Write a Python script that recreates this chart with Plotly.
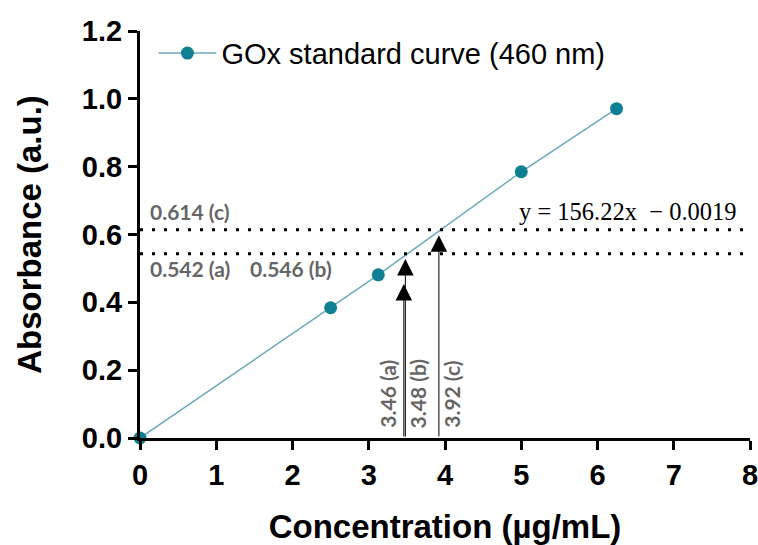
import plotly.graph_objects as go

# Standard curve data
conc = [0, 2.5, 3.125, 5, 6.25]
absorb = [0, 0.384, 0.481, 0.785, 0.971]

# Reference absorbance levels (dotted lines)
levels = [0.614, 0.543]

# Sample read-outs: concentration, arrow tip absorbance, label
sample_x = [3.46, 3.48, 3.92]
sample_tip = [0.454, 0.528, 0.598]
sample_labels = ["3.46 (a)", "3.48 (b)", "3.92 (c)"]

x_ticks = [0, 1, 2, 3, 4, 5, 6, 7, 8]
y_ticks = [0.0, 0.2, 0.4, 0.6, 0.8, 1.0, 1.2]

gray = "#666666"
fig = go.Figure()
fig.add_trace(go.Scatter(
    x=conc, y=absorb, mode="lines+markers",
    name="GOx standard curve (460 nm)",
    line=dict(color="#6aaab6", width=1.5),
    marker=dict(color="#0f7f93", size=13),
    cliponaxis=False,
))

for lv in levels:
    fig.add_shape(type="line", xref="x", yref="y", x0=0, x1=8.05, y0=lv, y1=lv,
                  line=dict(color="black", width=3, dash="3px,9px"), layer="above")

for sx, st in zip(sample_x, sample_tip):
    fig.add_annotation(x=sx, y=st, ax=sx, ay=0, xref="x", yref="y", axref="x", ayref="y",
                       text="", showarrow=True, arrowhead=2, arrowsize=3.3, arrowwidth=1,
                       arrowcolor="black", standoff=0)

lab_font = dict(family="Lato", size=21, color=gray, weight="bold")
label_x = [3.25, 3.64, 4.09]
for lx, lt in zip(label_x, sample_labels):
    fig.add_annotation(x=lx, y=0.13, xref="x", yref="y", text=lt, showarrow=False,
                       textangle=-90, font=lab_font)

fig.add_annotation(x=0.1, y=0.669, xref="x", yref="y", text="0.614 (c)", showarrow=False,
                   xanchor="left", font=lab_font)
fig.add_annotation(x=0.1, y=0.500, xref="x", yref="y", text="0.542 (a)", showarrow=False,
                   xanchor="left", font=lab_font)
fig.add_annotation(x=1.42, y=0.500, xref="x", yref="y", text="0.546 (b)", showarrow=False,
                   xanchor="left", font=lab_font)
fig.add_annotation(x=4.95, y=0.669, xref="x", yref="y", text="y = 156.22x  − 0.0019",
                   showarrow=False, xanchor="left",
                   font=dict(family="Liberation Serif", size=24.5, color="black"))

axis_common = dict(
    showline=True, linecolor="black", linewidth=3,
    ticks="outside", ticklen=9, tickwidth=3, tickcolor="black",
    showgrid=False, zeroline=False, automargin=False, ticklabeloverflow="allow",
    tickfont=dict(family="Liberation Sans", size=29, color="black", weight="bold"),
)
title_font = dict(family="Liberation Sans", size=33, color="black", weight="bold")
fig.update_xaxes(range=[0, 8], tickvals=x_ticks, ticktext=[str(v) for v in x_ticks],
                 title=dict(text="Concentration (µg/mL)", standoff=26, font=title_font),
                 **axis_common)
fig.update_yaxes(range=[0, 1.2], tickvals=y_ticks, ticktext=[f"{v:.1f}" for v in y_ticks],
                 title=dict(text="Absorbance (a.u.)", standoff=31, font=title_font),
                 **axis_common)

fig.update_layout(
    width=758, height=545,
    margin=dict(l=140, r=8, t=31, b=107),
    plot_bgcolor="white", paper_bgcolor="white",
    showlegend=True,
    legend=dict(x=0.022, y=1.008, xanchor="left", yanchor="top", bgcolor="rgba(0,0,0,0)",
                itemwidth=58,
                font=dict(family="Liberation Sans", size=29, color="black")),
)

# remove the default page margin so the figure fills the window exactly
fig.write_html(
    "out.html",
    config={"displayModeBar": False},
    post_script="document.body.style.margin='0';document.documentElement.style.overflow='hidden';",
)
